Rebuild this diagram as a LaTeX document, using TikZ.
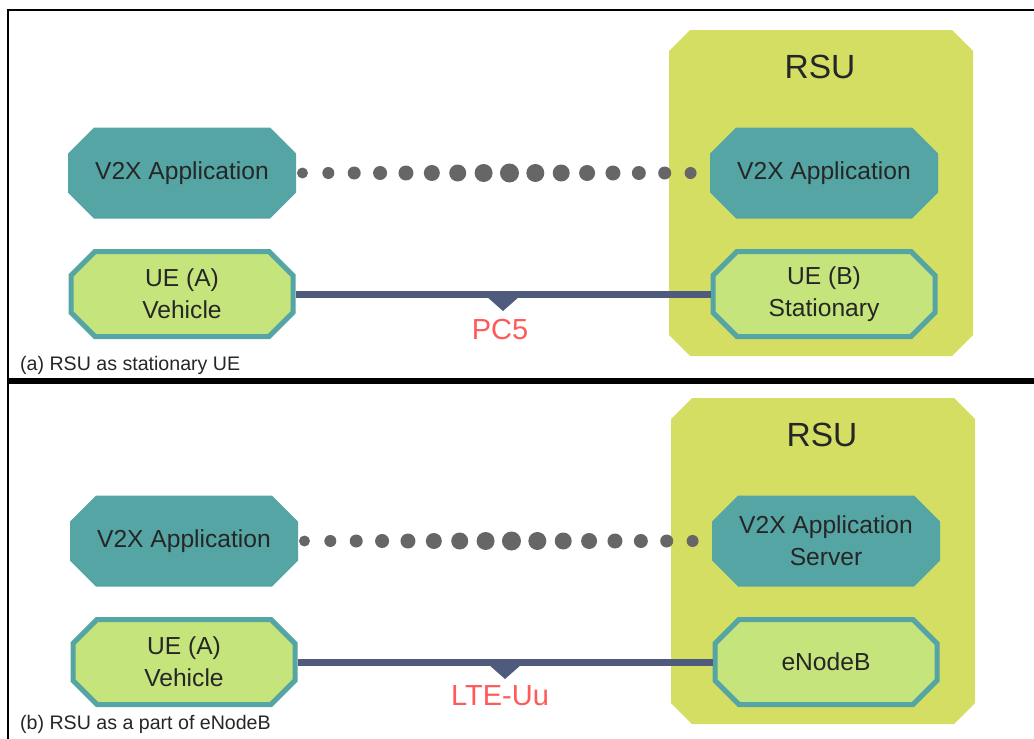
\documentclass[tikz,border=0pt]{standalone}
\usepackage{fontspec}
\setmainfont{Liberation Sans}
\usetikzlibrary{calc}
\definecolor{tealfill}{RGB}{85,165,165}
\definecolor{uefill}{RGB}{197,228,123}
\definecolor{rsufill}{RGB}{211,222,99}
\definecolor{linkcol}{RGB}{80,90,125}
\definecolor{dotcol}{RGB}{102,102,102}
\definecolor{labcol}{RGB}{255,90,90}
\definecolor{txtcol}{RGB}{38,38,38}

\begin{document}
\begin{tikzpicture}[x=1pt,y=-1pt,
  % octagon round the current point: half width / half height / chamfer
  oct/.style n args={3}{insert path={++({-#1+#3},-#2) -- ++({2*#1-2*#3},0) -- ++(#3,#3)
    -- ++(0,{2*#2-2*#3}) -- ++(-#3,#3) -- ++({-2*#1+2*#3},0) -- ++(-#3,-#3)
    -- ++(0,{-2*#2+2*#3}) -- cycle}},
  appoct/.style={oct={114}{45.5}{26}},
  ueoct/.style={oct={111}{42.5}{24}},
  rsuoct/.style={oct={152}{163}{21}},
  uestyle/.style={fill=uefill,draw=tealfill,line width=5pt},
  octtxt/.style={minimum width=228pt,minimum height=91pt,inner sep=0pt,outer sep=0pt,
    align=center,text=txtcol,font=\fontsize{24.6}{32}\selectfont},
  uetxt/.style={octtxt,minimum width=227pt,minimum height=90pt},
  rsulbl/.style={text=txtcol,font=\fontsize{33.5}{40}\selectfont},
  link/.style={linkcol,line width=7pt},
  linklbl/.style={text=labcol,font=\fontsize{29}{34}\selectfont},
  caption/.style={anchor=base west,inner sep=0pt,text=txtcol,font=\fontsize{19.6}{24}\selectfont}]
\useasboundingbox (0,0) rectangle (1034,739);
% frame
\draw[line width=2pt] (1034,10) -- (8,10) -- (8,739);
\draw[line width=5.5pt] (8,381) -- (1034,381);

% (a) RSU as stationary UE
\fill[rsufill] (821,193) [rsuoct];
\node[rsulbl] (rsuAlbl) at (820,67) {RSU};
\fill[tealfill] (182,173) [appoct];
\node[octtxt] (appA) at (182,173) {V2X Application};
\fill[tealfill] (824,173) [appoct];
\node[octtxt] (rappA) at (824,173) {V2X Application};
\path[uestyle] (182,294) [ueoct];
\node[uetxt] (ueA) at (182,294) {UE (A)\\Vehicle};
\path[uestyle] (824,294) [ueoct];
\node[uetxt] (ueB) at (824,294) {UE (B)\\Stationary};
\foreach \i in {0,...,15}
  \fill[dotcol] ($(appA.east)!{(\i+0.25)/16}!(rappA.west)$)
    circle[radius={(5.5+4*(1-abs(\i-8)/8))*1pt}];
\draw[link] (ueA.east) -- (ueB.west);
\coordinate (pcA) at ($(ueA.east)!0.5!(ueB.west)$);
\fill[linkcol] ($(pcA)+(-17,2)$) -- ($(pcA)+(17,2)$) -- ($(pcA)+(0,17)$) -- cycle;
\node[linklbl] (pc5) at (500,330) {PC5};
\node[caption] (capA) at (20,370) {(a) RSU as stationary UE};

% (b) RSU as a part of eNodeB
\fill[rsufill] (823,561) [rsuoct];
\node[rsulbl] (rsuBlbl) at (822,435) {RSU};
\fill[tealfill] (184,541) [appoct];
\node[octtxt] (appB) at (184,541) {V2X Application};
\fill[tealfill] (826,541) [appoct];
\node[octtxt] (srvB) at (826,541) {V2X Application\\Server};
\path[uestyle] (184,662) [ueoct];
\node[uetxt] (ueC) at (184,662) {UE (A)\\Vehicle};
\path[uestyle] (826,662) [ueoct];
\node[uetxt] (enb) at (826,662) {eNodeB};
\foreach \i in {0,...,15}
  \fill[dotcol] ($(appB.east)!{(\i+0.25)/16}!(srvB.west)$)
    circle[radius={(5.5+4*(1-abs(\i-8)/8))*1pt}];
\draw[link] (ueC.east) -- (enb.west);
\coordinate (pcB) at ($(ueC.east)!0.5!(enb.west)$);
\fill[linkcol] ($(pcB)+(-17,2)$) -- ($(pcB)+(17,2)$) -- ($(pcB)+(0,17)$) -- cycle;
\node[linklbl] (lteuu) at (500,696) {LTE-Uu};
\node[caption] (capB) at (20,729) {(b) RSU as a part of eNodeB};
\end{tikzpicture}
\end{document}
